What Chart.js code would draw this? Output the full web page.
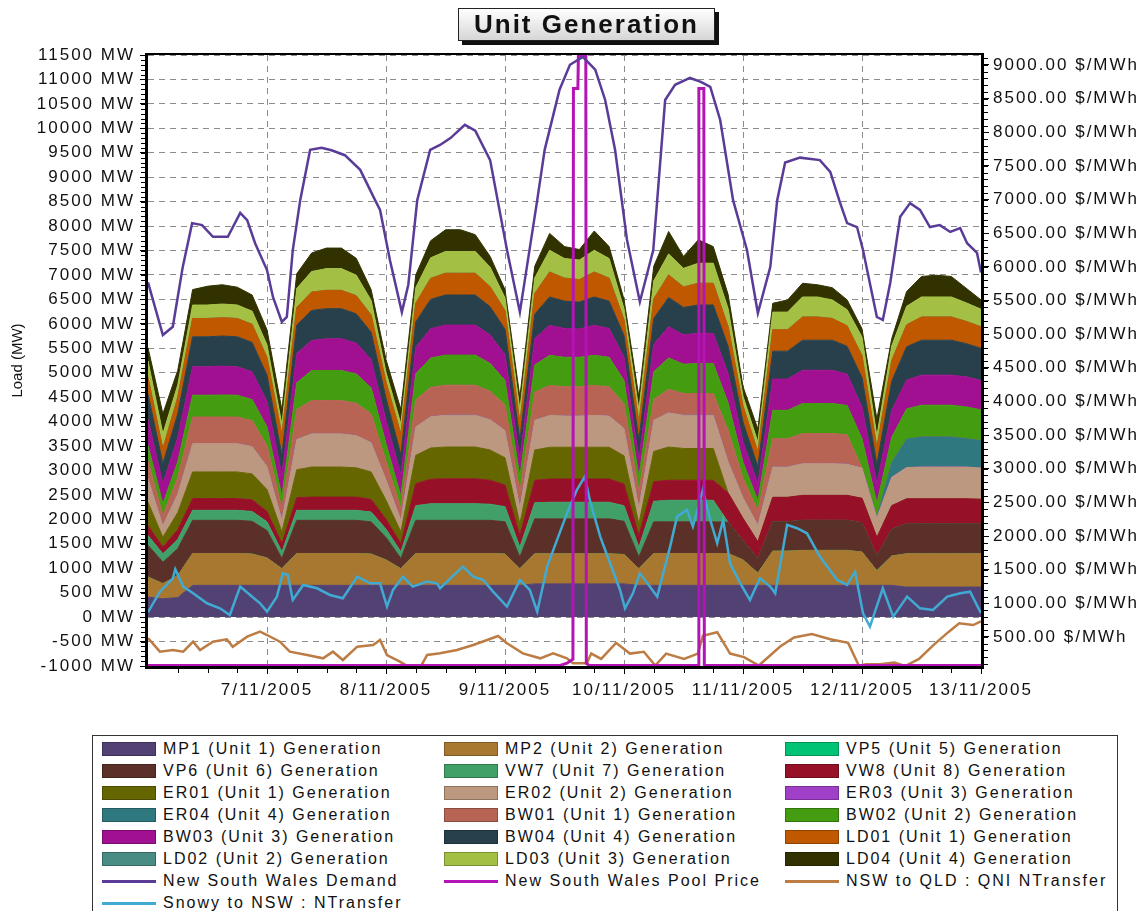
<!DOCTYPE html>
<html>
<head>
<meta charset="utf-8">
<script src="https://cdn.jsdelivr.net/npm/chart.js@4.4.1/dist/chart.umd.min.js"></script>
<style>
  body { margin: 0; background: #fff; font-family: 'Liberation Sans', Arial, sans-serif; }
  #wrap { position: relative; width: 1140px; height: 911px; overflow: hidden; }
  #chart { position: absolute; left: 0; top: 0; }
  #title {
    position: absolute; left: 458px; top: 8px; width: 255px; height: 31px;
    border: 1px solid #222; background: linear-gradient(#ffffff, #d6d6d6);
    box-shadow: 4px 4px 0 #111; font: bold 26px 'Liberation Sans', Arial, sans-serif;
    letter-spacing: 2px; text-align: center; line-height: 31px; color: #111;
  }
  #legend {
    position: absolute; left: 92px; top: 735px; width: 1026px; height: 220px;
    border: 1px solid #333; box-sizing: border-box;
  }
  .item { position: absolute; height: 22px; white-space: nowrap; color: #111;
    font: 16px 'Liberation Sans', Arial, sans-serif; letter-spacing: 2px; }
  .sw { position: absolute; left: 0; top: 4px; width: 54px; height: 14px;
    box-sizing: border-box; border: 1px solid rgba(0,0,0,0.25); }
  .ln { position: absolute; left: 0; top: 10px; width: 54px; height: 3px; }
  .tx { position: absolute; left: 61px; top: 2px; line-height: 18px; }
</style>
</head>
<body>
<div id="wrap">
  <canvas id="chart" width="1140" height="730"></canvas>
  <div id="title">Unit Generation</div>
  <div id="legend"></div>
</div>
<script>
// one value every 3 hours from 6/11 00:00
const hours = [0,3,6,9,12,15,18,21,24,27,30,33,36,39,42,45,48,51,54,57,60,63,66,69,72,75,78,81,84,87,90,93,96,99,102,105,108,111,114,117,120,123,126,129,132,135,138,141,144,147,150,153,156,159,162,165,168];
const dayTicks = [24, 48, 72, 96, 120, 144, 168];
const dayLabels = ['7/11/2005', '8/11/2005', '9/11/2005', '10/11/2005', '11/11/2005', '12/11/2005', '13/11/2005'];
const loadTicks = [-1000,-500,0,500,1000,1500,2000,2500,3000,3500,4000,4500,5000,5500,6000,6500,7000,7500,8000,8500,9000,9500,10000,10500,11000,11500];
const priceTicks = [500,1000,1500,2000,2500,3000,3500,4000,4500,5000,5500,6000,6500,7000,7500,8000,8500,9000];

// unit generation, MW
const mp1 = [410,375,400,650,650,650,650,650,650,650,650,650,650,650,650,650,650,650,650,650,650,650,650,650,650,650,680,680,680,680,680,680,680,650,650,650,650,650,650,650,650,650,650,650,650,650,650,650,650,650,650,615,615,615,615,615,615];
const mp2 = [410,310,450,650,650,650,650,640,560,340,650,650,650,650,650,640,520,340,650,650,650,650,650,650,640,340,615,615,615,615,615,615,600,340,650,650,650,650,650,650,520,250,700,700,715,715,715,715,680,300,600,680,680,680,680,680,680];
const offline = [0,0,0,0,0,0,0,0,0,0,0,0,0,0,0,0,0,0,0,0,0,0,0,0,0,0,0,0,0,0,0,0,0,0,0,0,0,0,0,0,0,0,0,0,0,0,0,0,0,0,0,0,0,0,0,0,0];
const vp6 = [650,440,550,680,680,680,680,670,560,210,680,680,680,680,680,660,460,210,680,680,680,680,680,680,660,240,715,715,715,715,715,715,680,240,650,650,650,650,650,640,400,300,600,600,615,615,615,615,600,300,550,615,615,615,615,615,615];
const vw7 = [200,170,190,205,205,205,205,200,180,135,205,205,205,205,205,200,170,135,300,340,340,340,340,330,310,200,330,340,340,340,340,340,320,200,420,440,440,440,440,0,0,0,0,0,0,0,0,0,0,0,0,0,0,0,0,0,0];
const vw8 = [200,135,200,240,240,240,240,240,210,170,260,270,270,270,270,260,200,170,450,500,510,510,510,490,440,240,460,475,475,475,475,475,440,240,400,410,410,410,410,600,450,340,500,500,510,510,510,510,500,380,480,510,510,510,510,510,500];
const er01 = [480,205,350,545,545,545,545,530,450,240,570,615,615,615,600,560,390,240,580,640,650,650,650,620,560,240,620,650,650,650,650,650,580,240,620,680,650,650,650,0,0,0,0,0,0,0,0,0,0,0,0,0,0,0,0,0,0];
const er02 = [480,240,380,580,580,580,580,560,470,240,620,680,680,680,660,600,420,240,580,640,650,650,650,620,560,330,610,650,640,640,650,640,560,330,640,700,680,680,680,640,420,340,620,620,650,650,650,640,620,400,580,640,650,650,650,650,640];
const er04 = [0,0,0,0,0,0,0,0,0,0,0,0,0,0,0,0,0,0,0,0,0,0,0,0,0,0,0,0,0,0,0,0,0,0,0,0,0,0,0,0,0,0,0,0,0,0,0,0,0,0,300,580,615,615,615,580,560];
const bw01 = [370,205,330,545,545,545,545,530,430,240,610,680,680,680,660,590,380,240,550,600,615,615,615,580,520,330,570,615,600,600,615,600,500,330,420,480,445,445,445,640,400,300,580,580,615,615,615,600,0,0,0,0,0,0,0,0,0];
const bw02 = [310,240,330,445,445,450,445,430,380,240,550,615,615,615,600,530,360,250,540,600,615,615,615,570,500,300,560,615,600,600,615,600,480,300,570,640,600,615,615,560,330,200,580,580,615,615,615,600,600,300,520,620,650,650,650,650,630];
const bw03 = [540,410,500,580,580,590,580,570,520,440,600,615,650,650,630,580,480,440,540,600,615,615,615,580,530,360,540,615,590,580,615,590,480,360,560,640,600,615,615,600,420,350,640,640,680,680,680,640,650,400,550,590,615,615,615,615,600];
const bw04 = [510,410,480,615,615,615,615,600,540,410,580,615,615,615,600,560,450,410,520,600,615,615,615,580,520,400,500,580,560,550,580,560,440,400,530,600,560,580,580,560,400,350,570,570,615,615,615,570,600,400,600,680,715,715,715,680,660];
const ld01 = [340,305,340,375,375,375,375,370,360,420,360,375,375,375,370,350,330,420,380,430,445,445,445,410,380,350,420,510,470,460,510,470,320,350,400,460,420,445,445,400,330,300,440,440,475,475,445,420,450,340,420,450,475,475,475,455,440];
const ld03 = [340,305,250,275,275,280,275,270,260,205,390,420,445,445,420,300,200,205,320,420,445,445,445,400,260,260,320,445,400,400,445,400,230,260,370,430,380,410,410,370,200,200,360,360,410,410,380,330,380,230,300,380,410,410,410,380,360];
const ld04 = [270,410,300,315,385,395,365,330,310,300,300,380,420,420,345,220,260,300,260,350,445,445,345,220,170,260,240,345,245,215,395,245,190,260,300,460,245,480,340,290,195,270,180,250,280,250,250,200,170,350,150,300,420,445,420,300,190];

const unitNames = [
  'MP1 (Unit 1) Generation', 'MP2 (Unit 2) Generation', 'VP5 (Unit 5) Generation',
  'VP6 (Unit 6) Generation', 'VW7 (Unit 7) Generation', 'VW8 (Unit 8) Generation',
  'ER01 (Unit 1) Generation', 'ER02 (Unit 2) Generation', 'ER03 (Unit 3) Generation',
  'ER04 (Unit 4) Generation', 'BW01 (Unit 1) Generation', 'BW02 (Unit 2) Generation',
  'BW03 (Unit 3) Generation', 'BW04 (Unit 4) Generation', 'LD01 (Unit 1) Generation',
  'LD02 (Unit 2) Generation', 'LD03 (Unit 3) Generation', 'LD04 (Unit 4) Generation'
];
const unitData = [mp1, mp2, offline, vp6, vw7, vw8, er01, er02, offline, er04, bw01, bw02, bw03, bw04, ld01, offline, ld03, ld04];
const unitColors = ['#524274', '#a87830', '#00c474', '#5a3028', '#40a068', '#961028',
  '#666600', '#bc9880', '#a040c8', '#307880', '#b86454', '#449c10',
  '#a01090', '#28404c', '#c05800', '#488c84', '#a4c044', '#323200'];

// [hour, value] pairs
const demand = [[0,6850],[3,5770],[5,5940],[7,7160],[8.9,8060],[10.9,8020],[13.1,7780],[16.1,7780],[18.6,8270],[20,8120],[21.6,7650],[24,7100],[25.2,6550],[27,6040],[28,6140],[29.2,7510],[30.7,8530],[32.7,9560],[35,9600],[37,9550],[39.7,9450],[42.8,9150],[45.8,8530],[46.8,8330],[48.8,7300],[51.2,6240],[52.5,6800],[54.3,8530],[56.9,9560],[58.9,9660],[61,9800],[63.9,10070],[66,9950],[69,9350],[72.4,7510],[75,6240],[78.5,8530],[80,9560],[83,10790],[85.1,11300],[87.7,11460],[90.2,11200],[92.2,10580],[94.2,9560],[96.6,7720],[99.2,6450],[101.9,7510],[102.7,8530],[104.3,10580],[106.3,10890],[109.3,11030],[111.5,10950],[113.4,10850],[115.4,10170],[118,8530],[120.8,7510],[123,6220],[125.5,7160],[126.9,8530],[128.5,9300],[131.5,9400],[135.5,9350],[137.6,9110],[139.5,8500],[141,8060],[143,7980],[144.2,7510],[147,6140],[148.2,6080],[149.7,6840],[151.7,8190],[153.7,8470],[155.7,8330],[157.7,7980],[159.7,8020],[161.8,7880],[163.8,7960],[165.2,7650],[167.2,7450],[168,7050]];
const poolPrice = [[0,75],[83,75],[84.5,110],[85.7,170],[85.8,8650],[86.7,8650],[86.8,9140],[88.3,9140],[88.4,110],[89,75],[111,75],[111.1,8650],[112.1,8650],[112.2,75],[168,75]];
const qni = [[0,-430],[2.4,-707],[5,-673],[7.1,-707],[9.1,-502],[10.5,-673],[13.1,-502],[15.9,-455],[17.1,-605],[20,-400],[22.6,-298],[24,-366],[26.6,-502],[28.6,-707],[32.1,-775],[35.3,-843],[37.3,-707],[39.3,-877],[42.2,-605],[45.4,-570],[46.8,-468],[48.2,-775],[50.8,-912],[52.8,-1030],[54.9,-1030],[56.3,-775],[58.9,-741],[62.3,-673],[65.6,-570],[68.4,-468],[70.6,-386],[72.4,-536],[75.6,-741],[79.1,-843],[81.7,-741],[84.5,-843],[85.7,-946],[88.5,-946],[89.4,-746],[91.4,-855],[94.4,-527],[97.2,-746],[100,-709],[102.3,-990],[104.5,-746],[108.1,-855],[110.9,-746],[111.9,-381],[114.8,-308],[117.4,-746],[120.2,-819],[123.2,-990],[127.5,-600],[130.3,-418],[133.9,-345],[137.6,-454],[141.2,-527],[143.4,-1000],[144.8,-965],[147.6,-965],[150.5,-928],[152.7,-1000],[155.5,-855],[158.5,-563],[161.4,-308],[163.6,-126],[166.4,-162],[168,-89]];
const snowy = [[0,100],[2.4,520],[5,790],[5.5,980],[7.1,624],[9.1,487],[11.9,283],[14.5,180],[16.5,44],[18.6,624],[20.6,453],[22.6,283],[24,112],[26,419],[27.2,896],[28.2,862],[29.2,351],[31.3,658],[34.1,590],[36.7,453],[39.3,385],[42.2,828],[44.8,692],[46.8,692],[48.2,215],[49.4,555],[51.4,828],[53.4,624],[56.3,726],[58.3,692],[58.9,590],[63.5,1033],[65.6,828],[67.6,760],[69.6,521],[72.4,215],[75,760],[77,555],[78.5,112],[80.5,1033],[82.5,1579],[84.5,2124],[86.5,2602],[88.1,2875],[89.1,2397],[91.2,1647],[93.2,1101],[95.2,555],[96.2,180],[97.8,487],[99.2,896],[101.2,624],[102.7,419],[105.3,1442],[106.7,2056],[108.7,2192],[109.9,1852],[111.9,2602],[113.4,1988],[114.8,1510],[116,1988],[117.4,1100],[119.4,700],[121.4,351],[123.4,794],[125.5,624],[126.5,487],[128.9,1886],[130.9,1818],[132.9,1715],[135.5,1238],[139,760],[141,658],[142.6,930],[144.2,78],[145.6,-195],[148.2,590],[150.3,10],[153.1,419],[155.7,180],[158.3,146],[161.2,419],[163.8,487],[165.8,521],[168,78]];

const toXY = pairs => pairs.map(p => ({ x: p[0], y: p[1] }));
const axisFont = { family: "'Liberation Sans', Arial, sans-serif", size: 17 };

// each unit band is filled down to the unit below it
const genSets = unitNames.map((name, i) => ({
  label: name,
  data: unitData[i],
  yAxisID: 'y',
  stack: 'gen',
  fill: i === 0 ? 'origin' : '-1',
  backgroundColor: unitColors[i],
  borderColor: unitColors[i],
  borderWidth: 1,
  pointRadius: 0,
  order: 1,
}));

const lineSets = [
  { label: 'New South Wales Demand', data: toXY(demand), yAxisID: 'y', stack: 'demand', borderColor: '#5a3c98', borderWidth: 2.5 },
  { label: 'New South Wales Pool Price', data: toXY(poolPrice), yAxisID: 'y1', stack: 'price', borderColor: '#b414b4', borderWidth: 3 },
  { label: 'NSW to QLD : QNI NTransfer', data: toXY(qni), yAxisID: 'y', stack: 'qni', borderColor: '#bc7c44', borderWidth: 2.5 },
  { label: 'Snowy to NSW :  NTransfer', data: toXY(snowy), yAxisID: 'y', stack: 'snowy', borderColor: '#40aad2', borderWidth: 2.5 },
].map(ds => Object.assign(ds, { fill: false, pointRadius: 0, order: 0 }));

// the source picture is stretched sideways, wider letter spacing imitates that
const spacing = {
  id: 'spacing',
  beforeDraw(chart) { chart.ctx.letterSpacing = '2px'; },
};

const frame = {
  id: 'frame',
  afterDraw(chart) {
    const { ctx, chartArea: a, scales } = chart;
    ctx.save();
    ctx.letterSpacing = '0px';
    ctx.strokeStyle = '#000';
    // minor ticks
    ctx.lineWidth = 1;
    ctx.beginPath();
    for (let v = -1000; v <= 11500; v += 100) {
      const y = Math.round(scales.y.getPixelForValue(v)) + 0.5;
      ctx.moveTo(a.left - 7, y); ctx.lineTo(a.left - 3, y);
    }
    for (let v = 100; v <= 9100; v += 100) {
      const y = Math.round(scales.y1.getPixelForValue(v)) + 0.5;
      ctx.moveTo(a.right + 3, y); ctx.lineTo(a.right + 7, y);
    }
    for (let h = 6; h < 168; h += 6) {
      const x = Math.round(scales.x.getPixelForValue(h)) + 0.5;
      ctx.moveTo(x, a.bottom + 3); ctx.lineTo(x, a.bottom + 7);
    }
    ctx.stroke();
    // plot frame
    ctx.lineWidth = 3;
    ctx.beginPath();
    ctx.moveTo(a.left - 1.5, a.top - 1);
    ctx.lineTo(a.left - 1.5, a.bottom + 1.5);
    ctx.lineTo(a.right + 1.5, a.bottom + 1.5);
    ctx.lineTo(a.right + 1.5, a.top - 1);
    ctx.stroke();
    ctx.lineWidth = 2;
    ctx.beginPath();
    ctx.moveTo(a.left - 3, a.top - 1);
    ctx.lineTo(a.right + 3, a.top - 1);
    ctx.stroke();
    // left axis title
    ctx.translate(18, (a.top + a.bottom) / 2);
    ctx.rotate(-Math.PI / 2);
    ctx.font = "15px 'Liberation Sans', Arial, sans-serif";
    ctx.fillStyle = '#111';
    ctx.textAlign = 'center';
    ctx.textBaseline = 'middle';
    ctx.fillText('Load (MW)', 0, 0);
    ctx.restore();
  },
};

const chart = new Chart(document.getElementById('chart'), {
  type: 'line',
  data: { labels: hours, datasets: genSets.concat(lineSets) },
  plugins: [spacing, frame],
  options: {
    responsive: false,
    animation: false,
    devicePixelRatio: 1,
    layout: { padding: { top: 55, left: 0, right: 0, bottom: 0 } },
    elements: { line: { tension: 0 } },
    plugins: {
      legend: { display: false },
      title: { display: false },
      tooltip: { enabled: false },
    },
    scales: {
      x: {
        type: 'linear',
        min: 0,
        max: 168,
        afterBuildTicks: s => { s.ticks = dayTicks.map(v => ({ value: v })); },
        afterFit: s => { s.height = 64; },
        ticks: {
          callback: v => dayLabels[dayTicks.indexOf(v)],
          font: axisFont, color: '#111', padding: 6, maxRotation: 0, autoSkip: false,
        },
        grid: { color: '#8c8c8c', tickColor: '#000', tickLength: 8 },
        border: { display: false, dash: [6, 5] },
      },
      y: {
        stacked: true,
        min: -1000,
        max: 11500,
        afterBuildTicks: s => { s.ticks = loadTicks.map(v => ({ value: v })); },
        afterFit: s => { s.width = 148; },
        ticks: { callback: v => v + ' MW', font: axisFont, color: '#111', padding: 5 },
        grid: { color: '#8c8c8c', tickColor: '#000', tickLength: 8 },
        border: { display: false, dash: [6, 5] },
      },
      y1: {
        position: 'right',
        min: 69,
        max: 9148,
        afterBuildTicks: s => { s.ticks = priceTicks.map(v => ({ value: v })); },
        afterFit: s => { s.width = 159; },
        ticks: { callback: v => v.toFixed(2) + ' $/MWh', font: axisFont, color: '#111', padding: 4 },
        grid: { drawOnChartArea: false, tickColor: '#000', tickLength: 8 },
        border: { display: false },
      },
    },
  },
});

// legend in three columns below the chart
const legendBox = document.getElementById('legend');
const legendCols = [9, 351, 692];
chart.data.datasets.forEach((ds, i) => {
  const item = document.createElement('div');
  item.className = 'item';
  item.style.left = legendCols[i % 3] + 'px';
  item.style.top = (2 + Math.floor(i / 3) * 22) + 'px';
  const mark = document.createElement('span');
  mark.className = ds.fill ? 'sw' : 'ln';
  mark.style.background = ds.fill ? ds.backgroundColor : ds.borderColor;
  const text = document.createElement('span');
  text.className = 'tx';
  text.textContent = ds.label;
  item.appendChild(mark);
  item.appendChild(text);
  legendBox.appendChild(item);
});
</script>
</body>
</html>
